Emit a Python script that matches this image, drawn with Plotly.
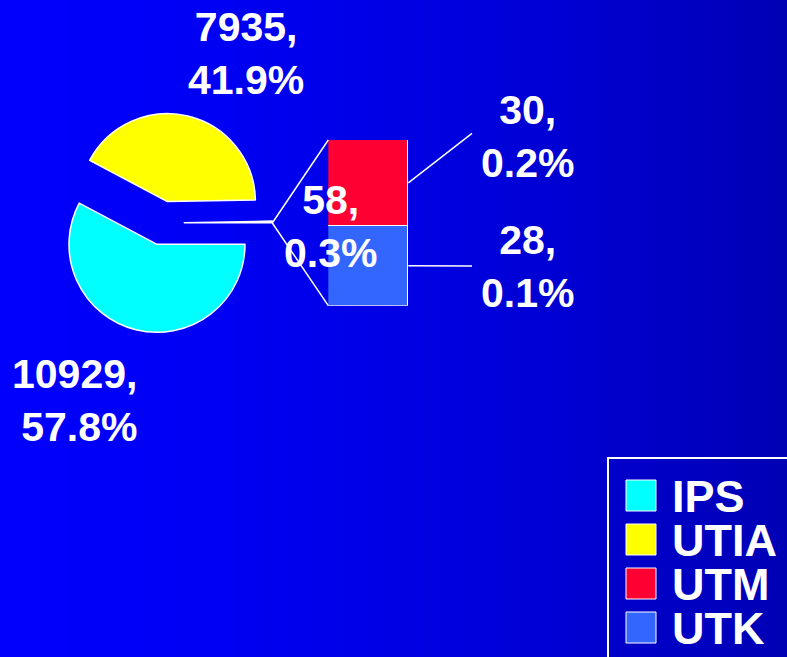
import plotly.graph_objects as go

W, H = 787, 657

# ---------------- data ----------------
pie_labels = ["IPS", "UTIA", "Other"]
pie_values = [10929, 7935, 58]
pie_colors = ["#00FFFF", "#FFFF00", "rgba(0,0,0,0)"]

bar_labels = ["UTK", "UTM"]          # bottom -> top
bar_values = [28, 30]
bar_colors = ["#3366FF", "#FF0033"]

legend_labels = ["IPS", "UTIA", "UTM", "UTK"]
legend_colors = ["#00FFFF", "#FFFF00", "#FF0033", "#3366FF"]

total = sum(pie_values)


def pct(v):
    return f"{100.0 * v / total:.1f}%"


def px(x):
    return x / W


def py(y):
    return 1 - y / H


FONT = "Liberation Sans, Arial, sans-serif"

fig = go.Figure()

# ---------------- pie ----------------
PULL = 0.25
pie_x0, pie_x1 = 52.3, 272.3
pie_y0, pie_y1 = 113.0, 333.0
fig.add_trace(go.Pie(
    labels=pie_labels, values=pie_values, sort=False,
    direction="clockwise", rotation=90,
    pull=[PULL] * len(pie_values),
    marker=dict(colors=pie_colors, line=dict(color="white", width=1.5)),
    textinfo="none", hoverinfo="label+value+percent", showlegend=False,
    domain=dict(x=[px(pie_x0), px(pie_x1)], y=[py(pie_y1), py(pie_y0)]),
))

# ---------------- stacked bar ----------------
bar_l, bar_r = 328.3, 408.3
bar_top, bar_bot = 140.0, 305.7
for lab, val, col in zip(bar_labels, bar_values, bar_colors):
    fig.add_trace(go.Bar(
        x=[0], y=[val], name=lab, width=1,
        marker=dict(color=col, line=dict(color="white", width=1.5)),
        showlegend=False, hoverinfo="name+y",
    ))

# ---------------- background gradient ----------------
shapes = []
N = 80
for i in range(N):
    t = (i + 0.5) / N
    b = int(round(252 - 72 * t ** 1.6))
    shapes.append(dict(type="rect", xref="paper", yref="paper",
                       x0=i / N - 0.002, x1=(i + 1) / N + 0.002, y0=0, y1=1,
                       fillcolor=f"rgb(0,0,{b})", line=dict(width=0),
                       layer="below"))

# connectors pie -> bar
cx = (pie_x0 + pie_x1) / 2
cy = (pie_y0 + pie_y1) / 2
r = (pie_x1 - pie_x0) / (2 * (1 + PULL))
tip_x, tip_y = cx + r * (1 + PULL), cy
line_style = dict(color="white", width=1.5)
for yy in (bar_top, bar_bot):
    shapes.append(dict(type="line", xref="paper", yref="paper",
                       x0=px(tip_x), y0=py(tip_y), x1=px(bar_l), y1=py(yy),
                       line=line_style))

# leader lines from bar segments
bar_sum = sum(bar_values)
scale = (bar_bot - bar_top) / bar_sum
seg_mid = []
acc = 0
for v in bar_values:
    seg_mid.append(bar_bot - (acc + v / 2) * scale)
    acc += v
lead_end = {"UTM": (472, 133.3), "UTK": (472, 266)}
for lab, ym in zip(bar_labels, seg_mid):
    ex, ey = lead_end[lab]
    shapes.append(dict(type="line", xref="paper", yref="paper",
                       x0=px(bar_r), y0=py(ym), x1=px(ex), y1=py(ey),
                       line=line_style))

# legend box
shapes.append(dict(type="rect", xref="paper", yref="paper",
                   x0=px(608), x1=px(800), y0=py(670), y1=py(458),
                   line=dict(color="white", width=2), fillcolor="rgba(0,0,0,0)"))
leg_tops = [480, 524, 568, 612]
annotations = []
for lab, col, top in zip(legend_labels, legend_colors, leg_tops):
    shapes.append(dict(type="rect", xref="paper", yref="paper",
                       x0=px(626), x1=px(656), y0=py(top + 31), y1=py(top),
                       fillcolor=col, line=dict(color="white", width=1)))
    annotations.append(dict(xref="paper", yref="paper", x=px(670), y=py(top + 15.5),
                            xanchor="left", yanchor="middle", showarrow=False,
                            height=40, valign="middle",
                            text=lab, font=dict(family=FONT, size=45, color="white",
                                                weight="bold")))

# data labels
label_font = dict(family=FONT, size=41, color="white", weight="bold")
lab_pos = [
    (pie_values[1], 246, 53.5, "center"),    # UTIA
    (pie_values[0], 139, 400, "right"),      # IPS
    (pie_values[2], 330, 226, "center"),     # Other
    (bar_values[1], 527, 136, "center"),     # UTM
    (bar_values[0], 527, 267, "center"),     # UTK
]
for v, x, y, al in lab_pos:
    annotations.append(dict(xref="paper", yref="paper", x=px(x), y=py(y),
                            xanchor="center" if al == "center" else al,
                            yanchor="middle", align=al, showarrow=False,
                            text=f"{v},<br>{pct(v)}", font=label_font))

fig.update_layout(
    width=W, height=H,
    margin=dict(l=0, r=0, t=0, b=0),
    paper_bgcolor="rgb(0,0,220)", plot_bgcolor="rgba(0,0,0,0)",
    barmode="stack", bargap=0,
    xaxis=dict(domain=[px(bar_l), px(bar_r)], range=[-0.5, 0.5], visible=False,
               fixedrange=True),
    yaxis=dict(domain=[py(bar_bot), py(bar_top)], range=[0, bar_sum], visible=False,
               fixedrange=True),
    shapes=shapes, annotations=annotations, showlegend=False,
)

fig.write_html("out.html",
               config={"displayModeBar": False},
               post_script="document.body.style.margin='0';"
                           "document.body.style.overflow='hidden';")
